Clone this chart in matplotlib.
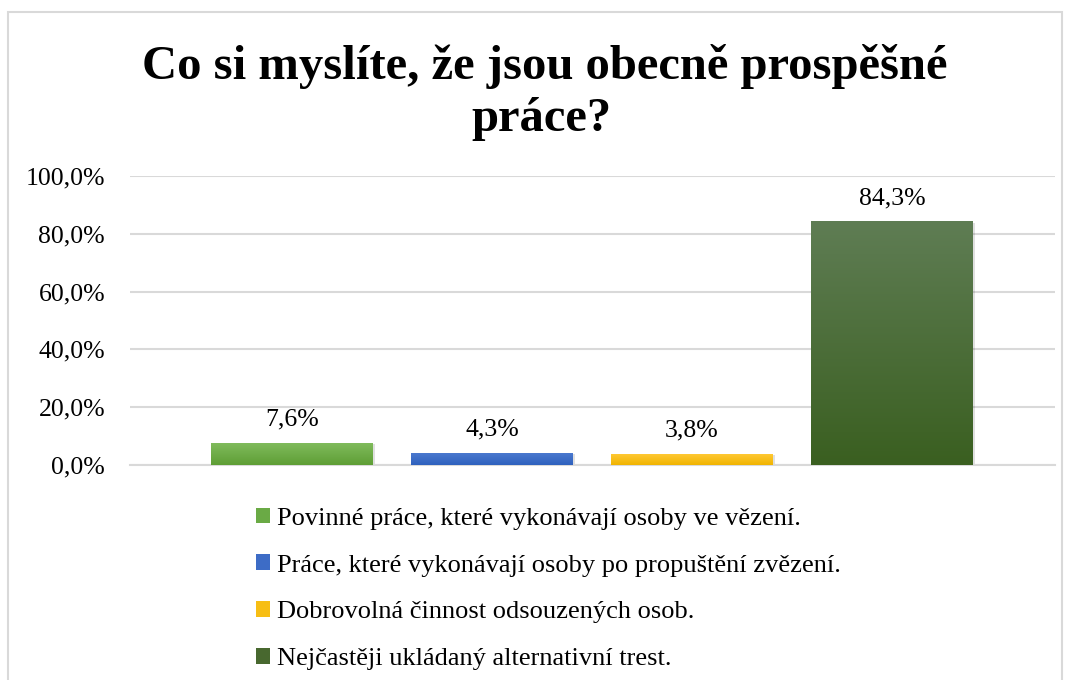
import matplotlib
matplotlib.use("Agg")
import matplotlib.pyplot as plt
import numpy as np
from matplotlib.patches import Rectangle, Patch
from matplotlib.colors import LinearSegmentedColormap

categories = ["Povinné práce, které vykonávají osoby ve vězení.",
              "Práce, které vykonávají osoby po propuštění zvězení.",
              "Dobrovolná činnost odsouzených osob.",
              "Nejčastěji ukládaný alternativní trest."]
values = [7.6, 4.3, 3.8, 84.3]
value_labels = ["7,6%", "4,3%", "3,8%", "84,3%"]
yticks = [0, 20, 40, 60, 80, 100]
ytick_labels = ["0,0%", "20,0%", "40,0%", "60,0%", "80,0%", "100,0%"]
title_lines = ["Co si myslíte, že jsou obecně prospěšné", "práce?"]

top_colors = ["#80bb5c", "#4d7bd0", "#ffc833", "#5f7d54"]
bot_colors = ["#5e9e35", "#2e60bd", "#f0b400", "#3a5f20"]
legend_colors = ["#6aaa45", "#3d6cc6", "#f7be14", "#48682f"]

plt.rcParams['font.family'] = ['Liberation Serif', 'DejaVu Serif']

fig = plt.figure(figsize=(10.7, 6.8), dpi=100)
ax = fig.add_axes([130/1070, 1-465/680, (1055-130)/1070, (465-176)/680])

x = np.arange(len(values))
bars = ax.bar(x, values, width=0.81, color=legend_colors, zorder=3)
for b, tc, bc in zip(bars, top_colors, bot_colors):
    cmap = LinearSegmentedColormap.from_list("g", [bc, tc])
    x0, y0 = b.get_x(), b.get_y()
    w, h = b.get_width(), b.get_height()
    grad = np.linspace(0, 1, 256).reshape(-1, 1)
    im = ax.imshow(grad, cmap=cmap, origin='lower', aspect='auto',
                   extent=[x0, x0 + w, y0, y0 + h], zorder=4)
    im.set_clip_path(b)
    b.set_facecolor('none')
    ax.add_patch(Rectangle((x0 + 0.01, y0 - 0.4), w, h, facecolor='#000000',
                           alpha=0.12, zorder=2, edgecolor='none'))

for xi, v, lab in zip(x, values, value_labels):
    ax.annotate(lab, (xi, v), xytext=(0, 12.5), textcoords='offset points',
                ha='center', va='baseline', fontsize=18.5, color='#000000')

ax.set_xlim(-0.81, 3.815)
ax.set_ylim(0, 100)
ax.set_yticks(yticks)
ax.set_yticklabels(ytick_labels, fontsize=18.5)
ax.set_xticks([])
ax.tick_params(axis='y', length=0, pad=18)
ax.grid(axis='y', color='#d9d9d9', linewidth=1.5, zorder=0)
ax.set_axisbelow(True)
for s in ['top', 'right', 'left']:
    ax.spines[s].set_visible(False)
ax.spines['bottom'].set_color('#d9d9d9')
ax.spines['bottom'].set_linewidth(1.5)

fig.text(545/1070, 1-79/680, title_lines[0], ha='center', va='baseline', fontsize=35,
         fontweight='bold')
fig.text(541/1070, 1-131/680, title_lines[1], ha='center', va='baseline', fontsize=35,
         fontweight='bold')

handles = [Patch(facecolor=c, edgecolor='none') for c in legend_colors]
fig.legend(handles, categories, loc='upper left', bbox_to_anchor=(245/1070, 1-497/680),
           frameon=False, fontsize=19, handlelength=0.55, handleheight=0.55,
           handletextpad=0.25, labelspacing=0.93, borderaxespad=0)

fig.patches.append(Rectangle((8/1070, -0.01), (1062-8)/1070, 1-12/680+0.01,
                             transform=fig.transFigure, fill=False,
                             edgecolor='#d9d9d9', linewidth=1.5))

fig.savefig("out.png", dpi=100)
